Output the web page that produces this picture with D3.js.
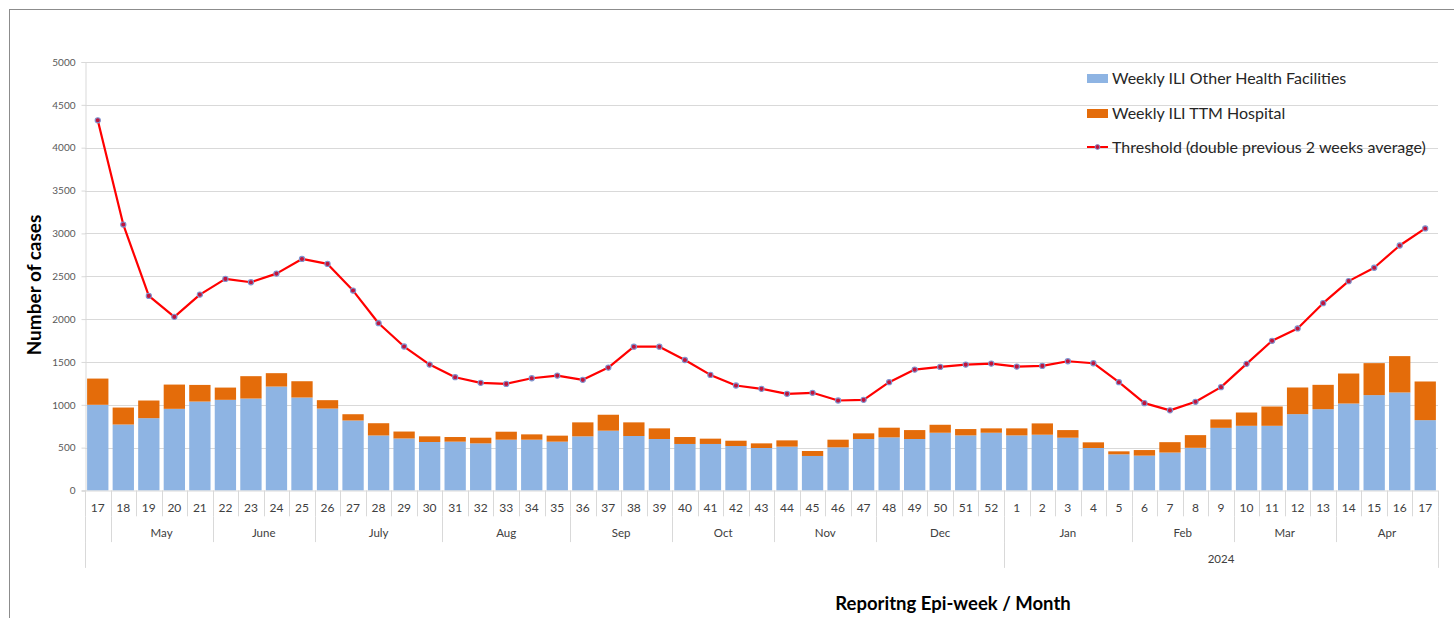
<!DOCTYPE html>
<html>
<head>
<meta charset="utf-8">
<script src="https://cdn.jsdelivr.net/npm/d3@7"></script>
<style>
  body { margin: 0; background: #fff; }
  svg text { font-family: "Lato", "Liberation Sans", sans-serif; }
</style>
</head>
<body>
<script>
const W = 1454, H = 618;

// epi-weeks from week 17 (2023) to week 17 (2024)
const weeks = [17,18,19,20,21,22,23,24,25,26,27,28,29,30,31,32,33,34,35,36,37,38,39,40,41,42,43,44,45,46,47,48,49,50,51,52,
               1,2,3,4,5,6,7,8,9,10,11,12,13,14,15,16,17];
const monthLabels = ["", "May", "June", "July", "Aug", "Sep", "Oct", "Nov", "Dec", "Jan", "Feb", "Mar", "Apr"];
const monthSpans  = [1, 4, 4, 5, 5, 4, 4, 4, 5, 5, 4, 4, 4];
const yearLabels = ["", "2024"];
const yearSpans  = [36, 17];

const otherFacilities = [1000,770,844,953,1038,1058,1073,1213,1085,956,817,642,607,566,570,550,593,593,570,632,698,636,601,543,543,519,496,512,403,504,601,620,601,674,643,674,
                         643,651,616,496,422,407,443,498,731,755,755,891,949,1015,1113,1144,821];
const ttmHospital = [306,198,206,283,194,143,261,156,190,98,73,143,81,66,54,66,93,62,70,163,186,159,124,81,62,62,54,73,58,89,66,113,104,93,74,51,
                     82,132,89,66,35,65,121,148,98,155,225,311,284,350,373,424,451];
const threshold = [4320,3103,2271,2026,2286,2469,2430,2531,2702,2644,2333,1952,1680,1469,1322,1256,1244,1310,1341,1291,1434,1678,1678,1523,1349,1225,1186,1128,
                   1140,1050,1058,1264,1411,1442,1469,1481,1446,1454,1508,1485,1264,1019,935,1035,1206,1478,1747,1891,2186,2443,2599,2859,3058];
const yTicks = [0,500,1000,1500,2000,2500,3000,3500,4000,4500,5000];

const seriesNames = ["Weekly ILI Other Health Facilities", "Weekly ILI TTM Hospital", "Threshold (double previous 2 weeks average)"];
const blue = "#8eb4e3", orange = "#e46c0a", red = "#ff0000";

const svg = d3.select("body").append("svg").attr("width", W).attr("height", H);

// chart frame (cut by the page edge)
svg.append("rect").attr("x", 9.5).attr("y", 9.5).attr("width", 1500).attr("height", 700)
  .attr("fill", "none").attr("stroke", "#8c8c8c");

const plotLeft = 85, plotRight = 1438, plotTop = 62, plotBottom = 490.5;
const rowH = 25.8;

const x = d3.scaleBand().domain(d3.range(weeks.length)).range([plotLeft, plotRight])
  .paddingInner(0.165).paddingOuter(0.0825);
const y = d3.scaleLinear().domain([0, 5000]).range([plotBottom, plotTop]);
const step = x.step();

// gridlines
svg.append("g").selectAll("line").data(yTicks.slice(1)).join("line")
  .attr("x1", plotLeft).attr("x2", plotRight)
  .attr("y1", d => Math.round(y(d)) + 0.5).attr("y2", d => Math.round(y(d)) + 0.5)
  .attr("stroke", "#d9d9d9");

// y axis
const yAxis = svg.append("g").attr("transform", `translate(${plotLeft + 0.5},0)`)
  .call(d3.axisLeft(y).tickValues(yTicks).tickFormat(d3.format("d")).tickSize(4).tickPadding(6));
yAxis.select(".domain").attr("stroke", "#d9d9d9");
yAxis.selectAll(".tick line").attr("stroke", "#d9d9d9");
yAxis.selectAll(".tick text").attr("fill", "#595959").style("font-size", "10px");

// stacked bars
const bars = svg.append("g");
bars.selectAll(".other").data(otherFacilities).join("rect").attr("class", "other")
  .attr("x", (d, i) => x(i)).attr("width", x.bandwidth())
  .attr("y", d => y(d)).attr("height", d => y(0) - y(d))
  .attr("fill", blue);
bars.selectAll(".ttm").data(ttmHospital).join("rect").attr("class", "ttm")
  .attr("x", (d, i) => x(i)).attr("width", x.bandwidth())
  .attr("y", (d, i) => y(d + otherFacilities[i])).attr("height", d => y(0) - y(d))
  .attr("fill", orange);

// threshold line
const cx = i => x(i) + x.bandwidth() / 2;
svg.append("path").datum(threshold)
  .attr("fill", "none").attr("stroke", red).attr("stroke-width", 2.2).attr("stroke-linejoin", "round")
  .attr("d", d3.line().x((d, i) => cx(i)).y(d => y(d)));
svg.append("g").selectAll("circle").data(threshold).join("circle")
  .attr("cx", (d, i) => cx(i)).attr("cy", d => y(d)).attr("r", 2.6)
  .attr("fill", "#c0143c").attr("stroke", "#7f95d0").attr("stroke-width", 1.1);

// category axis
const ax = svg.append("g").attr("stroke", "#d9d9d9");
ax.append("line").attr("x1", plotLeft - 3).attr("x2", plotRight).attr("y1", plotBottom + 0.5).attr("y2", plotBottom + 0.5);
const sepX = k => Math.round(plotLeft + k * step) + 0.5;
const mStart = Array.from(d3.cumsum([0].concat(monthSpans)));   // 0, 1, 5, ... 53
const yStart = Array.from(d3.cumsum([0].concat(yearSpans)));    // 0, 36, 53
// week separators
ax.selectAll(".wk").data(d3.range(weeks.length + 1)).join("line")
  .attr("x1", sepX).attr("x2", sepX)
  .attr("y1", plotBottom).attr("y2", plotBottom + rowH);
// month separators
ax.selectAll(".mo").data(mStart).join("line")
  .attr("x1", sepX).attr("x2", sepX)
  .attr("y1", plotBottom + rowH).attr("y2", plotBottom + 2 * rowH);
// year separators
ax.selectAll(".yr").data(yStart).join("line")
  .attr("x1", sepX).attr("x2", sepX)
  .attr("y1", plotBottom + 2 * rowH).attr("y2", plotBottom + 3 * rowH);

const labels = svg.append("g").attr("fill", "#404040").attr("text-anchor", "middle");
labels.selectAll(".wkl").data(weeks).join("text")
  .attr("x", (d, i) => cx(i)).attr("y", plotBottom + 21).style("font-size", "12px").text(d => d);
labels.selectAll(".mol").data(monthLabels).join("text")
  .attr("x", (d, i) => plotLeft + (mStart[i] + monthSpans[i] / 2) * step)
  .attr("y", plotBottom + rowH + 21).style("font-size", "11.5px").text(d => d);
labels.selectAll(".yrl").data(yearLabels).join("text")
  .attr("x", (d, i) => plotLeft + (yStart[i] + yearSpans[i] / 2) * step)
  .attr("y", plotBottom + 2 * rowH + 21).style("font-size", "11.5px").text(d => d);

// axis titles
svg.append("text").attr("transform", "translate(41,285) rotate(-90)")
  .attr("text-anchor", "middle").style("font-size", "19px").style("font-weight", "bold")
  .attr("fill", "#000").text("Number of cases");
svg.append("text").attr("x", 953).attr("y", 610)
  .attr("text-anchor", "middle").style("font-size", "18.5px").style("font-weight", "bold")
  .attr("fill", "#000").text("Reporitng Epi-week / Month");

// legend
const lg = svg.append("g").attr("transform", "translate(1087,0)");
const rowsY = [78, 113, 147];
lg.append("rect").attr("x", 0).attr("y", rowsY[0] - 4).attr("width", 21).attr("height", 9).attr("fill", blue);
lg.append("rect").attr("x", 0).attr("y", rowsY[1] - 4).attr("width", 21).attr("height", 9).attr("fill", orange);
lg.append("line").attr("x1", 0).attr("x2", 21).attr("y1", rowsY[2]).attr("y2", rowsY[2])
  .attr("stroke", red).attr("stroke-width", 2);
lg.append("circle").attr("cx", 10.5).attr("cy", rowsY[2]).attr("r", 2.4)
  .attr("fill", "#c0143c").attr("stroke", "#7f95d0").attr("stroke-width", 1);
lg.selectAll("text").data(seriesNames).join("text")
  .attr("x", 25).attr("y", (d, i) => rowsY[i] + 6)
  .attr("fill", "#262626").style("font-size", "16px").text(d => d);
</script>
</body>
</html>
